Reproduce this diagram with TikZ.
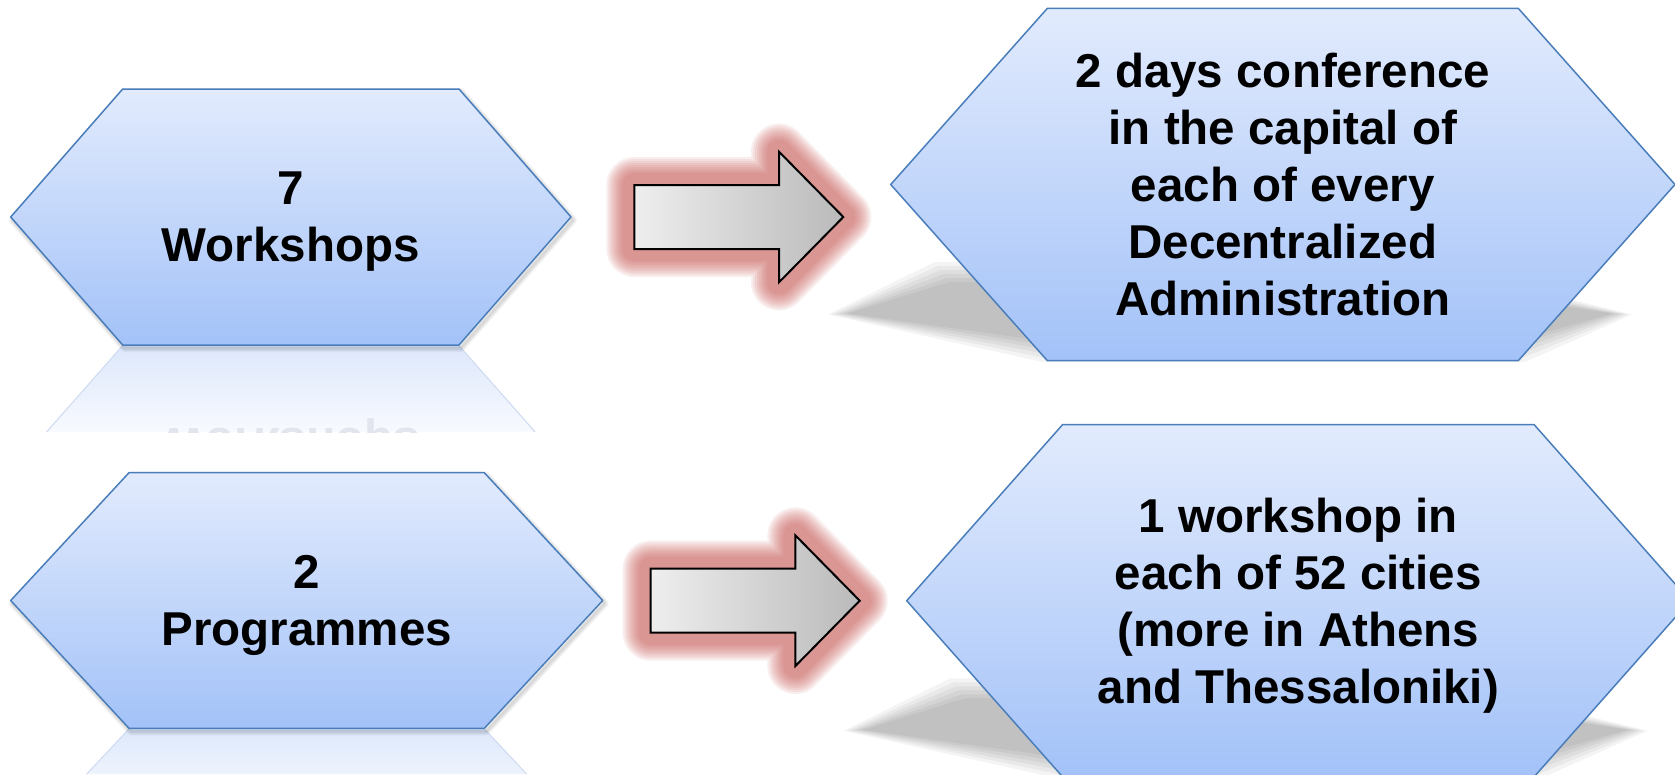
\documentclass[tikz,border=0pt]{standalone}
\usepackage{fontspec}
\setmainfont{Liberation Sans}
\definecolor{hexTop}{RGB}{226,235,253}
\definecolor{hexBot}{RGB}{163,194,248}
\definecolor{hexLine}{RGB}{74,126,187}
\definecolor{glowRed}{RGB}{200,85,82}
\definecolor{arrLeft}{RGB}{238,238,238}
\definecolor{arrRight}{RGB}{186,186,186}
\definecolor{reflTop}{RGB}{221,232,252}
\definecolor{reflEdge}{RGB}{205,218,240}
\definecolor{mirText}{RGB}{226,229,238}
\def\hexA{(10.7,217) -- (122.7,89) -- (459,89) -- (571,217) -- (459,345) -- (122.7,345) -- cycle}
\def\hexB{(10.7,600.5) -- (129,472.7) -- (484.3,472.7) -- (602.7,600.5) -- (484.3,728.3) -- (129,728.3) -- cycle}
\def\hexC{(890.7,184.5) -- (1047.3,8.4) -- (1518.3,8.4) -- (1675,184.5) -- (1518.3,360.6) -- (1047.3,360.6) -- cycle}
\def\hexD{(906.7,600.7) -- (1062.7,424.5) -- (1534,424.5) -- (1690,600.7) -- (1534,776.9) -- (1062.7,776.9) -- cycle}
\def\arrA{(634.3,185) -- (779,185) -- (779,151.7) -- (843.3,217) -- (779,282.3) -- (779,249) -- (634.3,249) -- cycle}
\def\arrB{(650.7,568.7) -- (795.4,568.7) -- (795.4,535.4) -- (859.7,600.7) -- (795.4,666) -- (795.4,632.7) -- (650.7,632.7) -- cycle}
\def\shadA{(838,314) -- (942,272) -- (1413,272) -- (1622,314) -- (1518,352) -- (1047,352) -- cycle}
\def\shadB{(853.6,730.3) -- (957.6,688.3) -- (1428.6,688.3) -- (1637.6,730.3) -- (1533.6,768.3) -- (1062.6,768.3) -- cycle}
\begin{document}
\begin{tikzpicture}[x=1pt,y=-1pt,
  hexbox/.style={top color=hexTop,bottom color=hexBot,draw=hexLine,line width=1.5pt,line join=round},
  arrowbox/.style={left color=arrLeft,right color=arrRight,draw=black,line width=2pt,line join=miter},
  glowline/.style={draw=glowRed,opacity=0.097,line join=round},
  dropshadow/.style={draw=black,opacity=0.04,line join=round},
  hextext/.style={font=\fontsize{47.5}{57}\selectfont\bfseries,align=center,text depth=0pt,inner sep=0pt}]
\useasboundingbox (0,0) rectangle (1675,774);
\fill[white] (0,0) rectangle (1675,774);
% perspective shadows of the right hexagons
\foreach \d in {-10,-6,-2,2,6,10}{
  \begin{scope}[shift={(1230,312)},xscale={(392-\d)/392},yscale={(40-\d)/40},shift={(-1230,-312)}]
    \fill[black,opacity=0.044] \shadA;
  \end{scope}
  \begin{scope}[shift={(1245.6,728.3)},xscale={(392-\d)/392},yscale={(40-\d)/40},shift={(-1245.6,-728.3)}]
    \fill[black,opacity=0.044] \shadB;
  \end{scope}
}
% reflections of the left hexagons
\shade[top color=reflTop,bottom color=reflTop!22!white] (122.7,345.5) -- (459,345.5) -- (535.1,432) -- (46.6,432) -- cycle;
\draw[reflEdge,line width=1pt] (459,345.5) -- (535.1,432) (122.7,345.5) -- (46.6,432);
\begin{scope}
  \clip (0,345.5) rectangle (620,432);
  \begin{scope}[shift={(290.8,473)},yscale=-1]
    \node[hextext,text=mirText,transform shape] (r1) at (0,0) {7\\Workshops};
  \end{scope}
\end{scope}
\shade[top color=reflTop,bottom color=reflTop!50!white] (129,728.8) -- (484.3,728.8) -- (526.6,774) -- (86.7,774) -- cycle;
\draw[reflEdge,line width=1pt] (484.3,728.8) -- (526.6,774) (129,728.8) -- (86.7,774);
% soft drop shadows of the left hexagons
\foreach \w in {2,4,6,8}{
  \draw[dropshadow,line width=\w,shift={(2,3)}] \hexA;
  \draw[dropshadow,line width=\w,shift={(2,3)}] \hexB;
}
% red glow round the arrows
\foreach \w in {24,28,...,56}{
  \draw[glowline,line width=\w] \arrA;
  \draw[glowline,line width=\w] \arrB;
}
\draw[arrowbox] \arrA;
\draw[arrowbox] \arrB;
% hexagons
\draw[hexbox] \hexA;
\draw[hexbox] \hexB;
\draw[hexbox] \hexC;
\draw[hexbox] \hexD;
% texts
\node[hextext] (h1) at (290.8,217) {7\\Workshops};
\node[hextext] (h2) at (306.7,600.5) {2\\Programmes};
\node[hextext] (h3) at (1282.8,184.5) {2 days conference\\in the capital of\\each of every\\Decentralized\\Administration};
\node[hextext] (h4) at (1298.3,600.7) {1 workshop in\\each of 52 cities\\(more in Athens\\and Thessaloniki)};
\end{tikzpicture}
\end{document}
